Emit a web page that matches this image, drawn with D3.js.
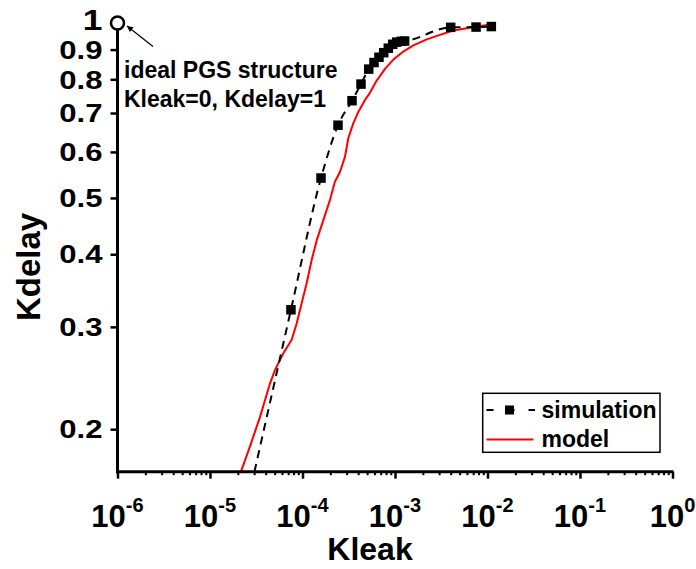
<!DOCTYPE html>
<html>
<head>
<meta charset="utf-8">
<script src="https://cdn.jsdelivr.net/npm/d3@7"></script>
<style>
  html, body { margin: 0; padding: 0; background: #fff; }
  svg text { font-family: "Liberation Sans", Arial, sans-serif; font-weight: bold; fill: #000; }
</style>
</head>
<body>
<svg id="chart" width="696" height="569"></svg>
<script>
// Simulation results (Kleak, Kdelay); the first point lies below the plotted range
const simKleak  = [2.8e-5, 7.5e-5, 1.585e-4, 2.42e-4, 3.43e-4, 4.29e-4, 5.20e-4, 5.93e-4, 6.71e-4,
                   7.55e-4, 8.47e-4, 9.45e-4, 1.043e-3, 1.17e-3, 1.27e-3, 4.00e-3, 7.52e-3, 1.10e-2];
const simKdelay = [0.160, 0.321, 0.541, 0.667, 0.735, 0.785, 0.833, 0.855, 0.873,
                   0.889, 0.905, 0.919, 0.927, 0.930, 0.931, 0.983, 0.984, 0.986];

// Analytical model curve
const modelKleak  = [2.0e-5, 2.16e-5, 2.70e-5, 3.48e-5, 4.46e-5, 5.05e-5, 6.19e-5, 7.64e-5, 8.65e-5,
                     9.79e-5, 1.109e-4, 1.256e-4, 1.426e-4, 1.68e-4, 1.98e-4, 2.24e-4, 2.54e-4,
                     2.88e-4, 3.13e-4, 3.54e-4, 4.01e-4, 4.74e-4, 5.37e-4, 6.34e-4, 7.80e-4,
                     9.60e-4, 1.23e-3, 1.58e-3, 2.20e-3, 3.06e-3, 4.26e-3, 5.96e-3, 8.30e-3, 1.205e-2];
const modelKdelay = [0.160, 0.169, 0.1866, 0.2102, 0.2399, 0.253, 0.270, 0.285, 0.304,
                     0.3294, 0.3565, 0.391, 0.423, 0.458, 0.496, 0.533, 0.554,
                     0.589, 0.634, 0.672, 0.703, 0.737, 0.759, 0.796, 0.834,
                     0.865, 0.893, 0.915, 0.937, 0.954, 0.971, 0.979, 0.988, 0.996];

// Ideal structure (Kleak = 0) shown at the left edge of the log axis
const idealKleak = 1e-6;
const idealKdelay = 1;

// Axis ticks
const xTickExponents = [-6, -5, -4, -3, -2, -1, 0];
const yTickValues = [0.2, 0.3, 0.4, 0.5, 0.6, 0.7, 0.8, 0.9, 1];
const yTickLabels = ["0.2", "0.3", "0.4", "0.5", "0.6", "0.7", "0.8", "0.9", "1"];

const seriesNames = ["simulation", "model"];

const svg = d3.select("#chart");

const plotLeft = 117.5, plotRight = 672.5, plotTop = 23, plotBottom = 471.7;
const x = d3.scaleLog().domain([1e-6, 1]).range([plotLeft, plotRight]);
const y = d3.scaleLog().domain([0.169, 1]).range([plotBottom, plotTop]);

const defs = svg.append("defs");
defs.append("clipPath").attr("id", "plotClip")
  .append("rect").attr("x", plotLeft).attr("y", 0)
  .attr("width", plotRight - plotLeft + 2).attr("height", plotBottom);

const sim = simKleak.map((k, i) => ({ k, d: simKdelay[i] }));
const model = modelKleak.map((k, i) => ({ k, d: modelKdelay[i] }));

const plot = svg.append("g").attr("clip-path", "url(#plotClip)");

// model curve
plot.append("path")
  .datum(model)
  .attr("fill", "none")
  .attr("stroke", "#ff0000")
  .attr("stroke-width", 2)
  .attr("stroke-linejoin", "round")
  .attr("d", d3.line().x(p => x(p.k)).y(p => y(p.d)));

// simulation curve
plot.append("path")
  .datum(sim)
  .attr("fill", "none")
  .attr("stroke", "#000")
  .attr("stroke-width", 2)
  .attr("stroke-dasharray", "8,6")
  .attr("d", d3.line().curve(d3.curveMonotoneX).x(p => x(p.k)).y(p => y(p.d)));

const ms = 9.5;
plot.selectAll("rect.sim").data(sim).join("rect")
  .attr("class", "sim")
  .attr("x", p => x(p.k) - ms / 2)
  .attr("y", p => y(p.d) - ms / 2)
  .attr("width", ms).attr("height", ms)
  .attr("fill", "#000");

// Axes
const axes = svg.append("g");
const yAxis = d3.axisLeft(y).tickValues(yTickValues).tickSize(7).tickFormat("");
const yg = axes.append("g").attr("transform", `translate(${plotLeft},0)`).call(yAxis);
yg.select(".domain").remove();
yg.selectAll(".tick line").attr("stroke", "#000").attr("stroke-width", 2.5);

const minorTicks = [];
xTickExponents.slice(0, -1).forEach(e => {
  for (let m = 2; m <= 9; m++) minorTicks.push(m * Math.pow(10, e));
});
const majorTicks = xTickExponents.map(e => Math.pow(10, e));

const xg = axes.append("g").attr("transform", `translate(0,${plotBottom})`);
xg.call(d3.axisBottom(x).tickValues(minorTicks).tickSize(3.5).tickFormat(""));
xg.select(".domain").remove();
xg.selectAll(".tick line").attr("stroke", "#000").attr("stroke-width", 2);
const xg2 = axes.append("g").attr("transform", `translate(0,${plotBottom})`);
xg2.call(d3.axisBottom(x).tickValues(majorTicks).tickSize(7).tickFormat(""));
xg2.select(".domain").remove();
xg2.selectAll(".tick line").attr("stroke", "#000").attr("stroke-width", 2.5);

// axis lines
axes.append("line").attr("x1", plotLeft).attr("x2", plotLeft)
  .attr("y1", y(idealKdelay)).attr("y2", plotBottom + 1.5)
  .attr("stroke", "#000").attr("stroke-width", 3);
axes.append("line").attr("x1", plotLeft - 1.5).attr("x2", plotRight + 1)
  .attr("y1", plotBottom).attr("y2", plotBottom)
  .attr("stroke", "#000").attr("stroke-width", 3);

// y tick labels (wide bold digits)
yTickValues.forEach((v, i) => {
  const isOne = v === 1;
  const baseline = isOne ? y(v) + 7 : y(v) + 9.2;
  axes.append("text")
    .attr("transform", `translate(${plotLeft - 15},${baseline}) scale(1.22,1)`)
    .attr("text-anchor", "end")
    .attr("font-size", isOne ? 29 : 25.5)
    .text(yTickLabels[i]);
});

// x tick labels (powers of ten)
xTickExponents.forEach(e => {
  const t = axes.append("text")
    .attr("x", x(Math.pow(10, e)))
    .attr("y", plotBottom + 55)
    .attr("text-anchor", "middle")
    .attr("font-size", 31);
  t.append("tspan").text("10");
  t.append("tspan").attr("dy", -15).attr("font-size", 20).text(String(e));
});

// axis titles
svg.append("text").attr("x", 370).attr("y", 560).attr("text-anchor", "middle")
  .attr("font-size", 32).text("Kleak");
svg.append("text").attr("transform", "translate(39.5,267) rotate(-90)").attr("text-anchor", "middle")
  .attr("font-size", 33).text("Kdelay");

// ideal point marker and annotation
svg.append("circle").attr("cx", x(idealKleak)).attr("cy", y(idealKdelay)).attr("r", 6.5)
  .attr("fill", "#fff").attr("stroke", "#000").attr("stroke-width", 2.5);

defs.append("marker").attr("id", "arrowHead")
  .attr("viewBox", "0 0 10 10").attr("refX", 10).attr("refY", 5)
  .attr("markerWidth", 7).attr("markerHeight", 6).attr("markerUnits", "userSpaceOnUse")
  .attr("orient", "auto")
  .append("path").attr("d", "M0,0 L10,5 L0,10 Z").attr("fill", "#000");
svg.append("line").attr("x1", 153).attr("y1", 46.5).attr("x2", 127).attr("y2", 26)
  .attr("stroke", "#000").attr("stroke-width", 1.2).attr("marker-end", "url(#arrowHead)");

svg.append("text").attr("x", 124).attr("y", 78).attr("font-size", 23).text("ideal PGS structure");
svg.append("text").attr("x", 124).attr("y", 107).attr("font-size", 23).text("Kleak=0, Kdelay=1");

// legend
const lg = svg.append("g");
lg.append("rect").attr("x", 482.7).attr("y", 393.3).attr("width", 177.3).attr("height", 59)
  .attr("fill", "#fff").attr("stroke", "#000").attr("stroke-width", 1.5);
lg.append("line").attr("x1", 486.5).attr("x2", 535).attr("y1", 410).attr("y2", 410)
  .attr("stroke", "#000").attr("stroke-width", 2).attr("stroke-dasharray", "7,14");
lg.append("rect").attr("x", 505).attr("y", 405.5).attr("width", 9).attr("height", 9).attr("fill", "#000");
lg.append("line").attr("x1", 486.5).attr("x2", 533.5).attr("y1", 439.5).attr("y2", 439.5)
  .attr("stroke", "#ff0000").attr("stroke-width", 2);
lg.append("text").attr("x", 541.5).attr("y", 417.5).attr("font-size", 23).text(seriesNames[0]);
lg.append("text").attr("x", 541.5).attr("y", 446.5).attr("font-size", 23).text(seriesNames[1]);
</script>
</body>
</html>
